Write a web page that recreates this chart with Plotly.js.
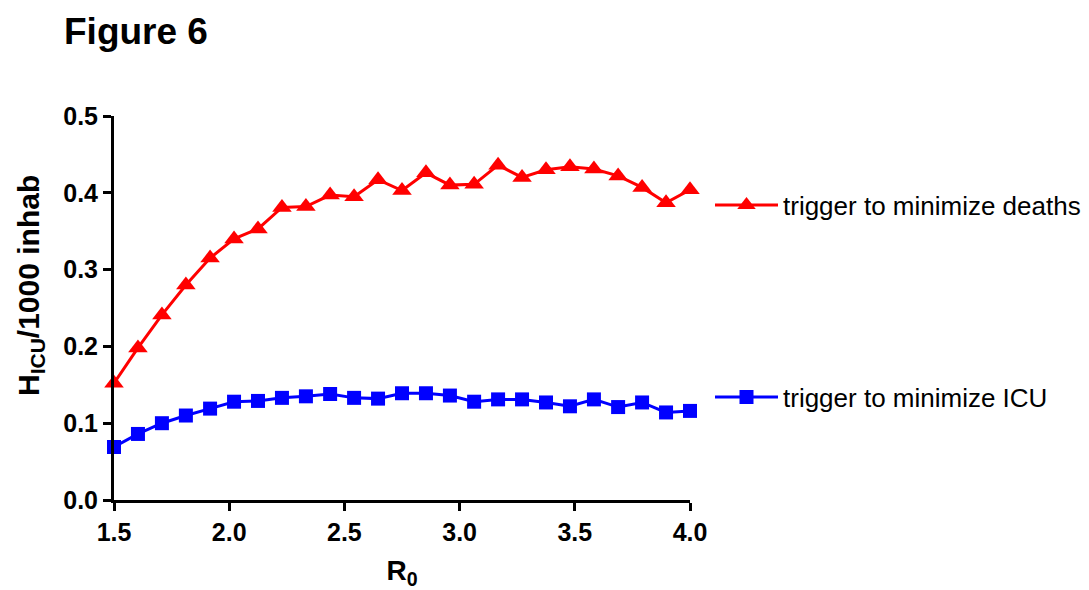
<!DOCTYPE html>
<html>
<head>
<meta charset="utf-8">
<script src="https://cdn.plot.ly/plotly-3.0.1.min.js"></script>
<style>html,body{margin:0;padding:0;background:#fff;}#chart{width:1089px;height:590px;}</style>
</head>
<body>
<div id="chart"></div>
<script>
// R0 values (25 evenly spaced points between 1.5 and 4.0)
const r0 = [1.5, 1.604, 1.708, 1.812, 1.917, 2.021, 2.125, 2.229, 2.333, 2.438, 2.542, 2.646, 2.75,
            2.854, 2.958, 3.063, 3.167, 3.271, 3.375, 3.479, 3.583, 3.688, 3.792, 3.896, 4.0];
// H_ICU per 1000 inhabitants
const deaths = [0.152, 0.198, 0.241, 0.280, 0.315, 0.340, 0.353, 0.381, 0.382, 0.397, 0.395, 0.417, 0.403,
                0.426, 0.410, 0.411, 0.436, 0.420, 0.430, 0.434, 0.431, 0.422, 0.407, 0.387, 0.404];
const icu = [0.069, 0.086, 0.100, 0.110, 0.119, 0.128, 0.129, 0.133, 0.135, 0.138, 0.133, 0.132, 0.139,
             0.139, 0.136, 0.128, 0.131, 0.131, 0.127, 0.122, 0.131, 0.121, 0.127, 0.114, 0.116];
const seriesNames = ['trigger to minimize deaths', 'trigger to minimize ICU'];
const xTicks = [1.5, 2.0, 2.5, 3.0, 3.5, 4.0];
const yTicks = [0.0, 0.1, 0.2, 0.3, 0.4, 0.5];
const yTitle = 'H<sub>ICU</sub>/1000 inhab';
const xTitle = 'R<sub>0</sub>';

const FONT = 'Liberation Sans, Arial, sans-serif';

const traces = [
  {
    x: r0, y: deaths, name: seriesNames[0], type: 'scatter', mode: 'lines+markers',
    line: {color: '#ff0000', width: 3},
    marker: {symbol: 'triangle-up', size: 17, color: '#ff0000'},
    cliponaxis: false, legend: 'legend'
  },
  {
    x: r0, y: icu, name: seriesNames[1], type: 'scatter', mode: 'lines+markers',
    line: {color: '#0000ff', width: 3},
    marker: {symbol: 'square', size: 14, color: '#0000ff'},
    cliponaxis: false, legend: 'legend2'
  }
];

const axisCommon = {
  showline: true, linecolor: '#000', linewidth: 3,
  ticks: 'outside', ticklen: 8, tickwidth: 3, tickcolor: '#000',
  showgrid: false, zeroline: false, fixedrange: true,
  tickfont: {family: FONT, size: 25, color: '#000', weight: 'bold'},
  automargin: false
};

const layout = {
  width: 1089, height: 590,
  paper_bgcolor: '#fff', plot_bgcolor: '#fff',
  margin: {l: 114, r: 399, t: 116, b: 90},
  title: {
    text: 'Figure 6', x: 64/1089, xanchor: 'left', xref: 'container',
    y: 1 - 31/590, yanchor: 'middle', yref: 'container',
    font: {family: FONT, size: 37, color: '#000', weight: 'bold'}
  },
  xaxis: Object.assign({}, axisCommon, {
    range: [1.5, 4.0], tickvals: xTicks, ticktext: xTicks.map(v => v.toFixed(1)),
    title: {text: xTitle, standoff: 18,
            font: {family: FONT, size: 28, color: '#000', weight: 'bold'}}
  }),
  yaxis: Object.assign({}, axisCommon, {
    range: [0, 0.5], tickvals: yTicks, ticktext: yTicks.map(v => v.toFixed(1))
  }),
  annotations: [{
    text: yTitle, textangle: -90, showarrow: false,
    xref: 'paper', yref: 'paper', x: (30 - 114) / 576, y: (500 - 286) / 384,
    xanchor: 'center', yanchor: 'middle',
    font: {family: FONT, size: 30, color: '#000', weight: 'bold'}
  }],
  showlegend: true,
  legend: {
    xref: 'container', yref: 'container',
    x: 710/1089, xanchor: 'left', y: 1 - 205/590, yanchor: 'middle',
    font: {family: FONT, size: 26, color: '#000'}, itemwidth: 63,
    bgcolor: 'rgba(0,0,0,0)', borderwidth: 0
  },
  legend2: {
    xref: 'container', yref: 'container',
    x: 710/1089, xanchor: 'left', y: 1 - 397/590, yanchor: 'middle',
    font: {family: FONT, size: 26, color: '#000'}, itemwidth: 63,
    bgcolor: 'rgba(0,0,0,0)', borderwidth: 0
  }
};

Plotly.newPlot('chart', traces, layout, {displayModeBar: false, staticPlot: true});
</script>
</body>
</html>
